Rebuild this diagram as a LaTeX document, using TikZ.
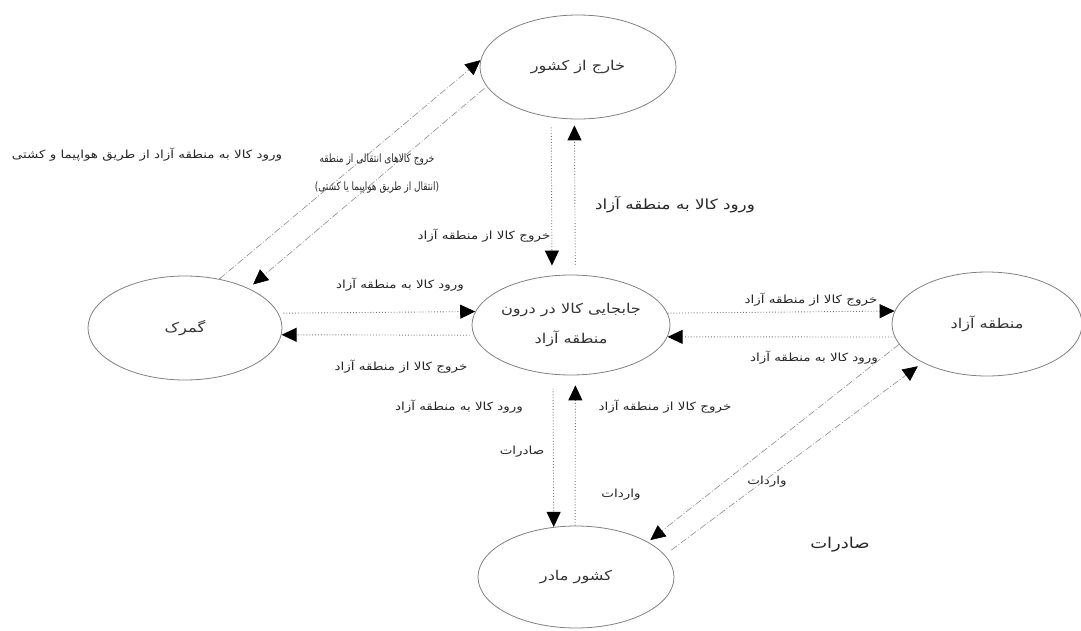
\documentclass[tikz,border=0pt]{standalone}
\usepackage{fontspec}
\usetikzlibrary{shapes.geometric,arrows.meta}
\newfontfamily\fa[Script=Arabic,FakeStretch=1.2]{DejaVu Sans}
\newfontfamily\fan[Script=Arabic,FakeStretch=0.78]{DejaVu Sans}
\TeXXeTstate=1
\begin{document}
\begin{tikzpicture}[x=1pt,y=-1pt,
  st/.style={ellipse, draw=black!50, line width=0.8pt, inner sep=0pt,
    minimum width=196pt, minimum height=104pt, align=center,
    font=\fa\fontsize{13.5}{30}\selectfont, text=black!80},
  lbl/.style={font=\fa\fontsize{11.2}{28}\selectfont, text=black!85, inner sep=1pt, align=center},
  narrow/.style={font=\fan\fontsize{11.5}{28}\selectfont, text=black!85, inner sep=1pt, align=center},
  big/.style={font=\fa\fontsize{14}{16}\selectfont, text=black!85, inner sep=1pt},
  tip/.style={-{Triangle[length=15pt,width=14pt,black]}},
  dotarr/.style={tip, draw=black!55, line width=0.9pt, dotted},
  dasharr/.style={tip, draw=black!45, line width=0.6pt,
    dash pattern=on 7pt off 2pt on 1pt off 2pt}]
\useasboundingbox (0,0) rectangle (1081,630);

% states
\node[st] (kha) at (578,67) {\beginR خارج از کشور\endR};
\node[st, minimum width=194pt] (gom) at (185,328) {\beginR گمرک\endR};
\node[st, minimum width=198pt, minimum height=100pt] (cen) at (571,325)
  {\beginR جابجایی کالا در درون\endR\\\beginR منطقه آزاد\endR};
\node[st, minimum width=190pt] (man) at (987,324) {\beginR منطقه آزاد\endR};
\node[st, minimum height=102pt] (mad) at (576,577) {\beginR کشور مادر\endR};

% horizontal connectors
\draw[dotarr, shorten <=5pt] (gom.9.8) -- (cen.172.3);
\draw[dotarr, shorten <=4pt] (cen.186.5) -- (gom.-4.8);
\draw[dotarr] (cen.7.7) -- (man.172.6);
\draw[dotarr] (man.188) -- (cen.-7.1);
% vertical connectors
\draw[dotarr, shorten <=10pt, shorten >=10pt] (kha.242.6) -- (cen.111.2);
\draw[dotarr, shorten <=10pt, shorten >=6pt] (cen.85.4) -- (kha.266.7);
\draw[dotarr, shorten <=14pt] (cen.-110.1) -- (mad.114.9);
\draw[dotarr, shorten >=10pt] (mad.91) -- (cen.-85.4);
% diagonal connectors
\draw[dasharr] (gom.55) -- (kha.176);
\draw[dasharr, shorten <=3pt, shorten >=6pt] (kha.192.3) -- (gom.32);
\draw[dasharr, shorten >=3pt] (man.193.9) -- (mad.26.3);
\draw[dasharr, shorten <=8pt, shorten >=6pt] (mad.14.5) -- (man.211.3);

% labels
\node[lbl] (t1) at (147,155) {\beginR ورود کالا به منطقه آزاد از طریق هواپیما و کشتی\endR};
\node[narrow] (t2) at (377,174) {\beginR خروج کالاهای انتقالی از منطقه\endR\\\beginR (انتقال از طریق هواپیما یا کشتی)\endR};
\node[lbl] (t3) at (484,236) {\beginR خروج کالا از منطقه آزاد\endR};
\node[big] (t4) at (675,205) {\beginR ورود کالا به منطقه آزاد\endR};
\node[lbl] (t5) at (400,285) {\beginR ورود کالا به منطقه آزاد\endR};
\node[lbl] (t6) at (401,367) {\beginR خروج کالا از منطقه آزاد\endR};
\node[lbl] (t7) at (811,300) {\beginR خروج کالا از منطقه آزاد\endR};
\node[lbl] (t8) at (814,358) {\beginR ورود کالا به منطقه آزاد\endR};
\node[lbl] (t9) at (459,407) {\beginR ورود کالا به منطقه آزاد\endR};
\node[lbl] (t10) at (665,407) {\beginR خروج کالا از منطقه آزاد\endR};
\node[lbl] (t11) at (522,452) {\beginR صادرات\endR};
\node[lbl] (t12) at (621,495) {\beginR واردات\endR};
\node[lbl] (t13) at (767,482) {\beginR واردات\endR};
\node[big, font=\fa\fontsize{15}{17}\selectfont] (t14) at (840,545) {\beginR صادرات\endR};
\end{tikzpicture}
\end{document}
